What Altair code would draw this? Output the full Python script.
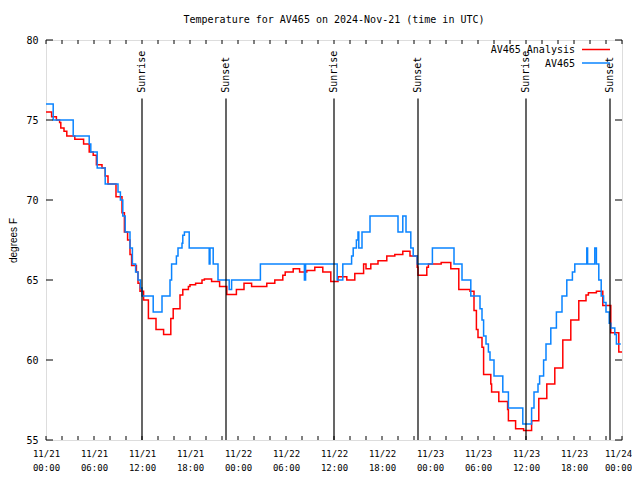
import altair as alt
import pandas as pd

# ---- data (hours since 2024-11-21 00:00 UTC, degrees F) ----
obs_hours = [0, 0.9, 3.4, 5.4, 5.6, 6.4, 7.4, 9.0, 9.3, 9.6, 9.9, 10.5, 10.8, 11.2, 11.5, 11.8,
             12.0, 13.4, 14.5, 15.5, 15.7, 16.3, 16.5, 17.0, 17.1, 17.3, 17.9, 20.4, 20.5, 20.9,
             21.5, 22.9, 23.2, 26.8, 32.3, 32.45, 36.4, 37.1, 38.2, 38.4, 38.8, 39.0, 39.1, 39.5,
             40.5, 44.0, 44.6, 45.0, 45.6, 45.9, 46.4, 48.3, 51.0, 52.0, 53.1, 54.25, 54.5, 54.7,
             55.0, 55.3, 55.5, 56.0, 57.1, 57.8, 59.6, 60.7, 61.0, 61.5, 61.7, 62.2, 62.5, 63.1,
             63.8, 64.5, 65.1, 65.8, 66.1, 67.6, 67.7, 68.6, 68.8, 69.1, 69.4, 69.7, 70.0, 70.4,
             70.6, 71.1, 71.3, 71.85]
obs_temps = [76, 75, 74, 73.5, 73, 72, 71, 70.5, 70, 69, 68, 67, 66, 65.5, 65, 64.5,
             64, 63, 64, 65, 66, 66.5, 67, 67.3, 67.8, 68, 67, 66, 67, 66,
             65, 64.4, 65, 66, 65, 66, 65, 66, 66.5, 67, 67.5, 68, 67, 68,
             69, 68, 69, 68, 67, 66.5, 66, 67, 66, 65, 64, 63.2, 62.5, 61.5,
             61, 60.5, 60, 59, 58, 57, 56, 57, 58, 58.5, 59, 60, 61, 62,
             63, 64, 65, 65.5, 66, 67, 66, 67, 66, 65, 64, 63.6, 63, 62.3,
             62, 61.6, 61, 61]

ana_hours = [0, 0.7, 1.3, 1.7, 1.85, 2.25, 2.6, 3.6, 4.7, 5.4, 5.9, 6.3, 7.0, 7.4, 7.75, 8.75,
             9.5, 9.8, 10.2, 10.5, 10.7, 11.3, 11.5, 11.75, 12.2, 12.8, 13.75, 14.7, 15.6, 15.9,
             16.75, 17.1, 17.8, 18.0, 18.7, 19.5, 19.8, 20.7, 21.7, 22.6, 23.8, 24.75, 25.7, 27.6,
             28.6, 29.6, 29.9, 30.9, 31.7, 32.6, 33.6, 34.6, 35.6, 36.5, 37.6, 38.6, 39.7, 40.0,
             40.6, 41.5, 42.6, 43.6, 44.6, 45.5, 46.4, 46.5, 47.6, 47.8, 49.4, 50.6, 51.6, 53.0,
             53.5, 53.8, 54.0, 54.5, 54.7, 55.6, 55.7, 56.6, 57.7, 57.8, 58.7, 59.7, 60.7, 61.6,
             62.6, 63.6, 64.6, 65.6, 66.6, 67.5, 67.8, 68.8, 69.6, 70.6, 71.6, 72.0]
ana_temps = [75.5, 75.2, 75.0, 74.85, 74.5, 74.3, 74.0, 73.8, 73.5, 73.0, 72.8, 72.2, 72.0, 71.5, 71.0, 70.2,
             69.2, 68.0, 67.5, 66.6, 65.9, 65.5, 64.8, 64.3, 63.75, 62.6, 61.9, 61.6, 62.6, 63.2,
             64.06, 64.4, 64.6, 64.7, 64.8, 65.0, 65.06, 64.9, 64.6, 64.1, 64.4, 64.8, 64.6, 64.8,
             65.0, 65.3, 65.5, 65.7, 65.5, 65.6, 65.8, 65.5, 64.9, 65.2, 65.0, 65.4, 66.0, 65.7,
             66.0, 66.2, 66.5, 66.6, 66.8, 66.5, 65.8, 65.3, 65.8, 66.0, 66.1, 65.7, 64.4, 64.3,
             63.1, 61.9, 61.4, 60.8, 59.1, 58.5, 58.0, 57.4, 56.9, 56.2, 55.7, 55.6, 56.2, 57.6,
             58.5, 59.5, 61.25, 62.5, 63.7, 64.06, 64.2, 64.3, 63.4, 61.7, 60.5, 60.5]

event_hours = [12, 22.5, 36, 46.5, 60, 70.5]
event_labels = ["Sunrise", "Sunset", "Sunrise", "Sunset", "Sunrise", "Sunset"]

series_names = ["AV465 Analysis", "AV465"]
series_colors = ["#ff0000", "#0a84ff"]

x_major = list(range(0, 73, 6))
x_minor = list(range(0, 73, 2))
y_major = [55, 60, 65, 70, 75, 80]

MONO = "DejaVu Sans Mono"
W, H = 576, 400

x_scale = alt.Scale(domain=[0, 72], nice=False, zero=False)
y_scale = alt.Scale(domain=[55, 80], nice=False, zero=False)

label_expr = ("['11/' + (21 + floor(datum.value / 24)), "
              "(datum.value % 24 < 10 ? '0' : '') + (datum.value % 24) + ':00']")

x_axis = alt.Axis(values=x_major, labelExpr=label_expr, ticks=False, domain=False, grid=False,
                  title=None, labelFont=MONO, labelFontSize=9, labelColor="black",
                  labelPadding=9, labelLineHeight=14, labelFlush=False, labelOverlap=False,
                  labelOffset={"condition": {"test": "datum.value == 72", "value": -4},
                               "value": 0})
y_axis = alt.Axis(values=y_major, ticks=False, domain=False, grid=False, title="degrees F",
                  titleFont="Liberation Sans", titleFontSize=10, titleFontWeight="normal",
                  titleColor="black", titlePadding=7, labelFlush=False,
                  labelFont=MONO, labelFontSize=10, labelColor="black", labelPadding=8)

ana_df = pd.DataFrame({"hour": ana_hours, "temp": ana_temps})
obs_df = pd.DataFrame({"hour": obs_hours, "temp": obs_temps})
ev_df = pd.DataFrame({"hour": event_hours, "label": event_labels})
xt_df = pd.DataFrame({"hour": x_minor})
yt_df = pd.DataFrame({"temp": y_major})


def X():
    return alt.X("hour:Q", scale=x_scale, axis=x_axis)


def Y():
    return alt.Y("temp:Q", scale=y_scale, axis=y_axis)


ana_line = alt.Chart(ana_df).mark_line(interpolate="step-after", color=series_colors[0],
                                       strokeWidth=1.5).encode(x=X(), y=Y())
obs_line = alt.Chart(obs_df).mark_line(interpolate="step-after", color=series_colors[1],
                                       strokeWidth=1.5).encode(x=X(), y=Y())

ev_rules = alt.Chart(ev_df).mark_rule(color="black", strokeWidth=1.2).encode(
    x=X(),
    y=alt.datum(55, scale=y_scale, axis=y_axis),
    y2=alt.datum(76.35),
)
ev_text = alt.Chart(ev_df).mark_text(angle=270, align="left", baseline="middle", font=MONO,
                                     fontSize=10, color="black").encode(
    x=X(),
    y=alt.datum(76.7, scale=y_scale, axis=y_axis),
    text="label:N",
)

# inward tick marks on all four sides
xt_bottom = alt.Chart(xt_df).mark_rule(color="black").encode(
    x=X(), y=alt.value(H), y2=alt.value(H - 4))
xt_top = alt.Chart(xt_df).mark_rule(color="black").encode(
    x=X(), y=alt.value(0), y2=alt.value(4))
yt_left = alt.Chart(yt_df).mark_rule(color="black").encode(
    y=Y(), x=alt.value(0), x2=alt.value(7))
yt_right = alt.Chart(yt_df).mark_rule(color="black").encode(
    y=Y(), x=alt.value(W), x2=alt.value(W - 7))

legend_layers = []
for i, (name, col) in enumerate(zip(series_names, series_colors)):
    ldf = pd.DataFrame({"label": [name]})
    legend_layers.append(
        alt.Chart(ldf).mark_text(align="right", baseline="middle", font=MONO, fontSize=10,
                                 color="black").encode(
            x=alt.value(529), y=alt.value(10 + 13.5 * i), text="label:N"))
    legend_layers.append(
        alt.Chart(ldf).mark_rule(color=col, strokeWidth=1.5).encode(
            x=alt.value(536), x2=alt.value(564), y=alt.value(9.5 + 13.5 * i)))

chart = alt.layer(
    ana_line, obs_line, ev_rules, ev_text, xt_bottom, xt_top, yt_left, yt_right, *legend_layers
).properties(
    width=W, height=H,
    title=alt.TitleParams("Temperature for AV465 on 2024-Nov-21 (time in UTC)", font=MONO,
                          fontSize=10, fontWeight="normal", color="black", anchor="middle",
                          offset=10),
    autosize=alt.AutoSizeParams(type="none"),
    padding={"left": 38, "top": 32, "right": 10, "bottom": 32},
).configure_view(stroke="black", strokeWidth=1).configure(background="white")

chart.save("out.html", embed_options={"renderer": "svg", "actions": False})
